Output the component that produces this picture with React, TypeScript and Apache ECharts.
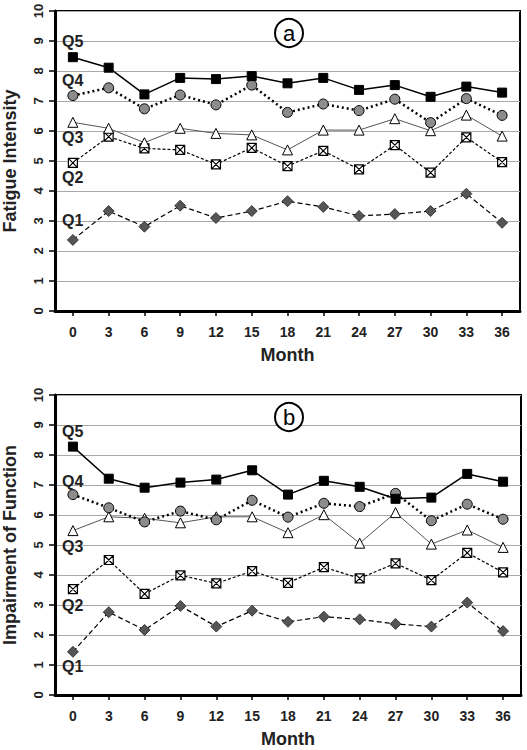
import React, { useEffect, useRef } from "react";
import * as echarts from "echarts";

const months = ["0", "3", "6", "9", "12", "15", "18", "21", "24", "27", "30", "33", "36"];
const yTicks = [0, 10];

// Panel a: Fatigue Intensity
const fatQ5 = [8.46, 8.11, 7.22, 7.77, 7.73, 7.83, 7.59, 7.77, 7.37, 7.53, 7.14, 7.48, 7.28];
const fatQ4 = [7.18, 7.44, 6.74, 7.2, 6.87, 7.53, 6.62, 6.9, 6.68, 7.06, 6.28, 7.08, 6.52];
const fatQ3 = [6.29, 6.09, 5.61, 6.09, 5.92, 5.87, 5.37, 6.03, 6.03, 6.41, 6.01, 6.53, 5.83];
const fatQ2 = [4.94, 5.81, 5.42, 5.37, 4.89, 5.44, 4.83, 5.34, 4.72, 5.53, 4.61, 5.79, 4.96];
const fatQ1 = [2.37, 3.33, 2.81, 3.51, 3.1, 3.33, 3.66, 3.47, 3.17, 3.23, 3.33, 3.91, 2.94];

// Panel b: Impairment of Function
const impQ5 = [8.28, 7.21, 6.91, 7.08, 7.18, 7.49, 6.68, 7.14, 6.94, 6.54, 6.58, 7.37, 7.11];
const impQ4 = [6.68, 6.24, 5.77, 6.13, 5.84, 6.49, 5.93, 6.39, 6.28, 6.72, 5.81, 6.36, 5.86];
const impQ3 = [5.48, 5.94, 5.89, 5.74, 5.94, 5.94, 5.41, 6.01, 5.06, 6.08, 5.03, 5.5, 4.92];
const impQ2 = [3.53, 4.5, 3.37, 3.99, 3.72, 4.13, 3.74, 4.26, 3.89, 4.39, 3.83, 4.74, 4.09];
const impQ1 = [1.44, 2.76, 2.17, 2.97, 2.28, 2.81, 2.44, 2.61, 2.52, 2.37, 2.28, 3.08, 2.13];

const seriesNames = ["Q5", "Q4", "Q3", "Q2", "Q1"];
const panelTitles = ["Fatigue Intensity", "Impairment of Function"];
const panelTags = ["a", "b"];
const xTitle = "Month";

const FONT = "'Liberation Sans', Arial, sans-serif";

const boxX = "path://M0,0H10V10H0Z M0,0L10,10 M10,0L0,10";

function makeSeries(data: number[][], idx: number) {
  const styles = [
    { symbol: "rect", symbolSize: 9, item: { color: "#000", borderColor: "#000", borderWidth: 1 }, line: { color: "#000", width: 1.5, type: "solid" } },
    { symbol: "circle", symbolSize: 10, item: { color: "#8c8c8c", borderColor: "#000", borderWidth: 1 }, line: { color: "#000", width: 2.5, type: [2, 3] } },
    { symbol: "triangle", symbolSize: 10, item: { color: "#fff", borderColor: "#000", borderWidth: 1 }, line: { color: "#555", width: 1, type: "solid" } },
    { symbol: boxX, symbolSize: 9, item: { color: "#fff", borderColor: "#000", borderWidth: 1.2 }, line: { color: "#000", width: 1.2, type: [3, 2] } },
    { symbol: "diamond", symbolSize: 11, item: { color: "#555", borderColor: "#222", borderWidth: 0.8 }, line: { color: "#000", width: 1.2, type: [5, 3] } },
  ];
  return data.map((d, i) => ({
    name: seriesNames[i],
    type: "line",
    xAxisIndex: idx,
    yAxisIndex: idx,
    data: d,
    symbol: styles[i].symbol,
    symbolSize: styles[i].symbolSize,
    showAllSymbol: true,
    itemStyle: styles[i].item,
    lineStyle: styles[i].line,
    z: 10 - i,
  }));
}

export default function App() {
  const ref = useRef<HTMLDivElement>(null);
  useEffect(() => {
    document.body.style.margin = "0";
    const chart = echarts.init(ref.current!, null, { renderer: "svg" });
    const grids = [
      { left: 55, top: 11, width: 465, height: 300 },
      { left: 55, top: 395, width: 466, height: 300 },
    ];
    const xAxes = grids.map((_, i) => ({
      type: "category",
      gridIndex: i,
      data: months,
      boundaryGap: true,
      name: xTitle,
      nameLocation: "middle",
      nameGap: 35,
      nameMoveOverlap: false,
      nameTextStyle: { fontFamily: FONT, fontWeight: "bold", fontSize: 18, color: "#222" },
      axisLine: { show: true, lineStyle: { color: "#000", width: 3 } },
      axisTick: { show: true, alignWithLabel: true, length: 5, lineStyle: { color: "#000", width: 1.5 } },
      axisLabel: { fontFamily: FONT, fontWeight: "bold", fontSize: 14, color: "#222", margin: 14 },
      splitLine: { show: false },
    }));
    const yAxes = grids.map((_, i) => ({
      type: "value",
      gridIndex: i,
      min: yTicks[0],
      max: yTicks[1],
      interval: 1,
      name: panelTitles[i],
      nameLocation: "middle",
      nameGap: 36,
      nameMoveOverlap: false,
      nameTextStyle: { fontFamily: FONT, fontWeight: "bold", fontSize: 18, color: "#222" },
      axisLine: { show: true, lineStyle: { color: "#000", width: 3 } },
      axisTick: { show: true, length: 6, lineStyle: { color: "#000", width: 1.5 } },
      axisLabel: { fontFamily: FONT, fontWeight: "bold", fontSize: 13, color: "#222", rotate: 90, margin: 10 },
      splitLine: { show: true, lineStyle: { color: "#a8a8a8", width: 1.2 } },
    }));
    const labelYs = [
      [42, 81, 138, 178, 221],
      [432, 482, 547, 606, 667],
    ];
    const graphic: any[] = [];
    labelYs.forEach((ys, p) => {
      ys.forEach((y, k) => {
        graphic.push({
          type: "text",
          left: 62,
          top: y - 9,
          style: { text: seriesNames[k], font: `bold 16px ${FONT}`, fill: "#222" },
          z: 100,
        });
      });
    });
    const tagCenters = [33, 417];
    tagCenters.forEach((cy, p) => {
      graphic.push({
        type: "circle",
        shape: { cx: 289, cy, r: 14 },
        style: { fill: "#fff", stroke: "#000", lineWidth: 2 },
        z: 100,
      });
      graphic.push({
        type: "text",
        x: 289,
        y: cy,
        style: { text: panelTags[p], font: `22px ${FONT}`, fill: "#000", align: "center", verticalAlign: "middle" },
        z: 101,
      });
    });
    chart.setOption({
      animation: false,
      backgroundColor: "#fff",
      grid: grids.map((g) => ({
        ...g,
        show: true,
        containLabel: false,
        outerBoundsMode: "none",
        borderColor: "#000",
        borderWidth: 2,
        backgroundColor: "transparent",
      })),
      xAxis: xAxes,
      yAxis: yAxes,
      series: [
        ...makeSeries([fatQ5, fatQ4, fatQ3, fatQ2, fatQ1], 0),
        ...makeSeries([impQ5, impQ4, impQ3, impQ2, impQ1], 1),
      ],
      graphic,
    });
    return () => chart.dispose();
  }, []);
  return <div ref={ref} style={{ position: "fixed", left: 0, top: 0, width: 527, height: 750 }} />;
}
